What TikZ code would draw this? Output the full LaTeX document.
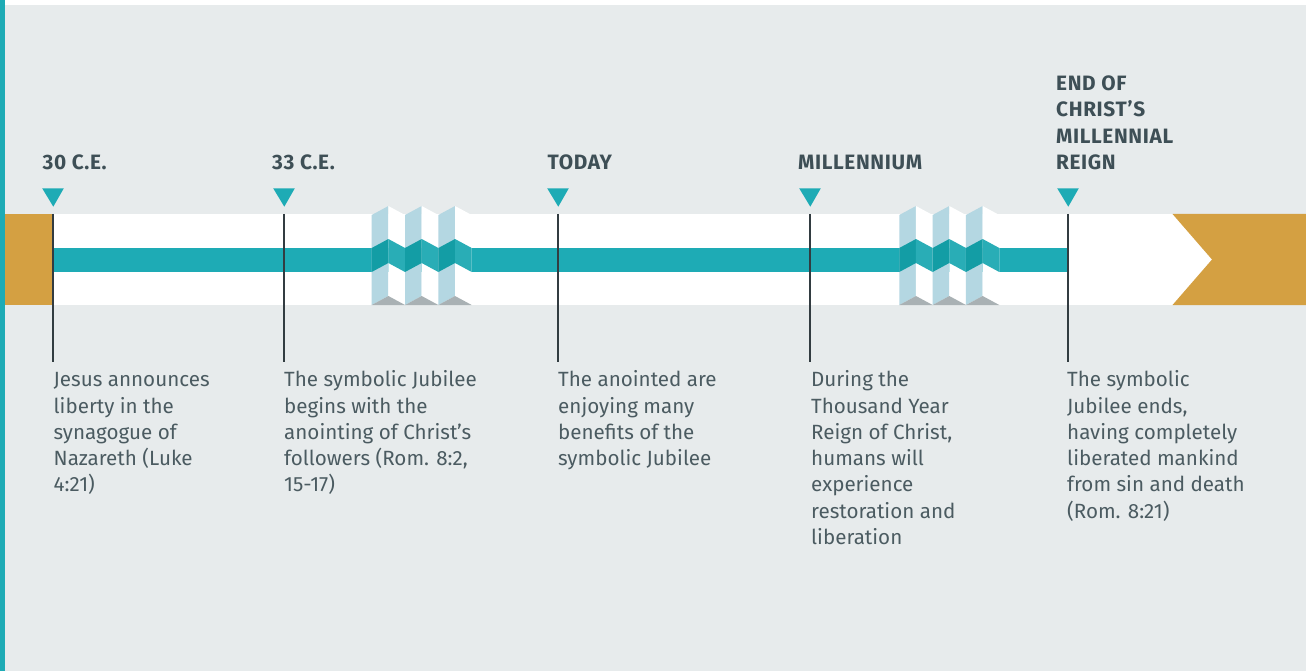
\documentclass[tikz,border=0pt]{standalone}
\usepackage{fontspec}
\setmainfont{Fira Sans}
\newfontfamily\headfont{Fira Sans}[LetterSpace=3]
\definecolor{PageGray}{HTML}{E7EBEC}
\definecolor{BandTeal}{HTML}{1EABB5}
\definecolor{FoldDark}{HTML}{139DA5}
\definecolor{FoldLight}{HTML}{29ADB6}
\definecolor{FoldBlue}{HTML}{B4D7E2}
\definecolor{FoldShade}{HTML}{A9B1B4}
\definecolor{EndGold}{HTML}{D4A042}
\definecolor{TickGray}{HTML}{323C41}
\definecolor{HeadText}{HTML}{3E4F56}
\definecolor{BodyText}{HTML}{4B5B61}
\usetikzlibrary{positioning, calc}

\tikzset{
  head/.style={anchor=base west, inner sep=0pt, align=left, text=HeadText,
    font=\headfont\fontsize{20.8}{26.3}\selectfont\bfseries},
  body/.style={anchor=base west, inner sep=0pt, align=left, text=BodyText,
    font=\fontsize{20.6}{26.3}\selectfont},
  tick/.style={line width=2pt, TickGray}
}

\begin{document}
\begin{tikzpicture}[x=1pt, y=-1pt]
  \useasboundingbox (0,0) rectangle (1306,671);

  % Page
  \fill[PageGray] (5,5) rectangle (1306,671);
  \fill[BandTeal] (0,0) rectangle (5,671);

  % Ribbon
  \fill[white] (5,214) rectangle (1306,305);
  \fill[EndGold] (5,214) rectangle (53,305);
  \fill[EndGold] (1172.5,214) -- (1306,214) -- (1306,305) -- (1172.5,305) -- (1212,259.5) -- cycle;
  \fill[BandTeal] (53,248) rectangle (1068,272);

  % Folds
  \foreach \gx in {371.7, 899.3} {
    \foreach \k in {0,1,2} {
      \pgfmathsetmacro{\xa}{\gx+33.33*\k}
      \pgfmathsetmacro{\xb}{\xa+16.67}
      \pgfmathsetmacro{\xc}{\xa+33.33}
      \fill[FoldBlue] (\xa,215) -- (\xb,206) -- (\xb,296) -- (\xa,305) -- cycle;
      \fill[white] (\xb,206) -- (\xc,215) -- (\xc,305) -- (\xb,296) -- cycle;
      \fill[FoldShade] (\xa,305) -- (\xb,296) -- (\xc,305) -- cycle;
      \fill[FoldDark] (\xa,248) -- (\xb,239) -- (\xb,263) -- (\xa,272) -- cycle;
      \fill[FoldLight] (\xb,239) -- (\xc,248) -- (\xc,272) -- (\xb,263) -- cycle;
    }
  }

  % Markers and ticks
  \foreach \x [count=\i] in {53,284,558,810,1068} {
    \coordinate (top\i) at (\x,214);
    \coordinate (bot\i) at (\x,362);
    \fill[BandTeal] (\x-10.8,188.3) -- (\x+10.8,188.3) -- (\x+0.3,206.7) -- cycle;
  }
  \foreach \i in {1,...,5}
    \draw[tick] (top\i) -- (bot\i);

  % Headings (base = last line)
  \node[head] (h1) at (42.5,169.5) {30 C.E.};
  \node[head] (h2) at (272,169.5) {33 C.E.};
  \node[head] (h3) at (547.5,169.5) {TODAY};
  \node[head] (h4) at (798,169.5) {MILLENNIUM};
  \node[head] (h5) at (1056,169.5) {END OF\\CHRIST’S\\MILLENNIAL\\REIGN};

  % Descriptions (base = last line)
  \node[body] (d1) at (53.5,491.9) {Jesus announces\\liberty in the\\synagogue of\\Nazareth (Luke\\4:21)};
  \node[body] (d2) at (284,491.9) {The symbolic Jubilee\\begins with the\\anointing of Christ’s\\followers (Rom. 8:2,\\15-17)};
  \node[body] (d3) at (558,465.6) {The anointed are\\enjoying many\\benefits of the\\symbolic Jubilee};
  \node[body] (d4) at (811,544.5) {During the\\Thousand Year\\Reign of Christ,\\humans will\\experience\\restoration and\\liberation};
  \node[body] (d5) at (1067,518.2) {The symbolic\\Jubilee ends,\\having completely\\liberated mankind\\from sin and death\\(Rom. 8:21)};
\end{tikzpicture}
\end{document}
